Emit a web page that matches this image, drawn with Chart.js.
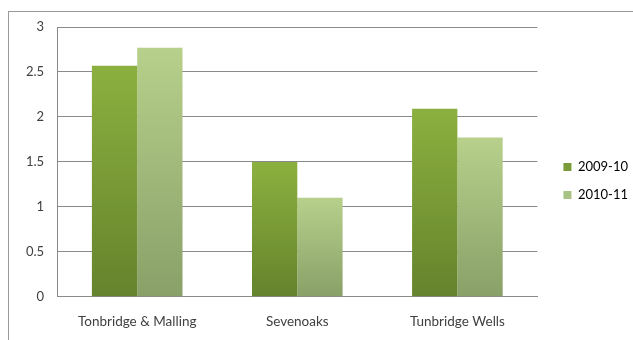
<!DOCTYPE html>
<html>
<head>
<meta charset="utf-8">
<script src="https://cdn.jsdelivr.net/npm/chart.js@4"></script>
<style>
  html, body { margin: 0; padding: 0; background: #fff; }
  #wrap { position: relative; width: 633px; height: 340px; overflow: hidden; }
  #frame { position: absolute; left: 8px; top: 11px; width: 700px; height: 400px;
           border-left: 1px solid #9a9a9a; border-top: 1px solid #9a9a9a; }
  #barChart { position: absolute; left: 0; top: 0; }
</style>
</head>
<body>
<div id="wrap">
  <div id="frame"></div>
  <canvas id="barChart" width="633" height="340"></canvas>
</div>
<script>
const categories = ['Tonbridge & Malling', 'Sevenoaks', 'Tunbridge Wells'];
const series2009 = [2.57, 1.5, 2.09];
const series2010 = [2.77, 1.1, 1.77];
const yTicks = [0, 0.5, 1, 1.5, 2, 2.5, 3];

// per-bar vertical gradient, lighter at the top
function barFill(topColor, bottomColor) {
  return function (c) {
    const chart = c.chart;
    const area = chart.chartArea;
    if (!area || c.parsed == null) return topColor;
    const y = chart.scales.y;
    const top = y.getPixelForValue(c.parsed.y);
    const bottom = y.getPixelForValue(0);
    if (!(bottom > top)) return topColor;
    const g = chart.ctx.createLinearGradient(0, top, 0, bottom);
    g.addColorStop(0, topColor);
    g.addColorStop(1, bottomColor);
    return g;
  };
}

// nudge the legend a little away from the plot
const legendShift = {
  id: 'legendShift',
  afterLayout(chart) {
    const lg = chart.legend;
    if (lg) { lg.left += 11; lg.right += 11; lg.top -= 6; lg.bottom -= 6; }
  }
};

const ctx = document.getElementById('barChart');

new Chart(ctx, {
  type: 'bar',
  data: {
    labels: categories,
    datasets: [{
      label: '2009-10',
      data: series2009,
      backgroundColor: barFill('#8cb03f', '#65832c'),
      borderWidth: 0
    },
    {
      label: '2010-11',
      data: series2010,
      backgroundColor: barFill('#b7d08b', '#89a068'),
      borderWidth: 0
    }]
  },
  plugins: [legendShift],
  options: {
    responsive: false,
    animation: false,
    events: [],
    layout: { padding: { left: 13, top: 27, right: 6, bottom: -7 } },
    datasets: { bar: { categoryPercentage: 0.566, barPercentage: 1 } },
    scales: {
      x: {
        grid: { display: false, drawTicks: false },
        border: { color: '#8a8a8a', width: 1 },
        ticks: { color: '#404040', font: { family: 'Lato', size: 13.5 }, padding: 17, maxRotation: 0 }
      },
      y: {
        min: 0,
        max: 3,
        afterBuildTicks: (axis) => { axis.ticks = yTicks.map(v => ({ value: v })); },
        grid: { color: '#8a8a8a', drawTicks: false },
        border: { color: '#8a8a8a', width: 1 },
        ticks: { color: '#404040', font: { family: 'Lato', size: 13 }, padding: 13, callback: (v) => String(v) }
      }
    },
    plugins: {
      tooltip: { enabled: false },
      legend: {
        position: 'right',
        labels: {
          boxWidth: 8,
          boxHeight: 8,
          padding: 15,
          color: '#404040',
          font: { family: 'Lato', size: 13 },
          generateLabels: (chart) => chart.data.datasets.map((ds, i) => ({
            text: ds.label,
            fillStyle: i === 0 ? '#7a9c36' : '#a9c385',
            strokeStyle: 'rgba(0,0,0,0)',
            lineWidth: 0,
            datasetIndex: i
          }))
        }
      }
    }
  }
});
</script>
</body>
</html>
